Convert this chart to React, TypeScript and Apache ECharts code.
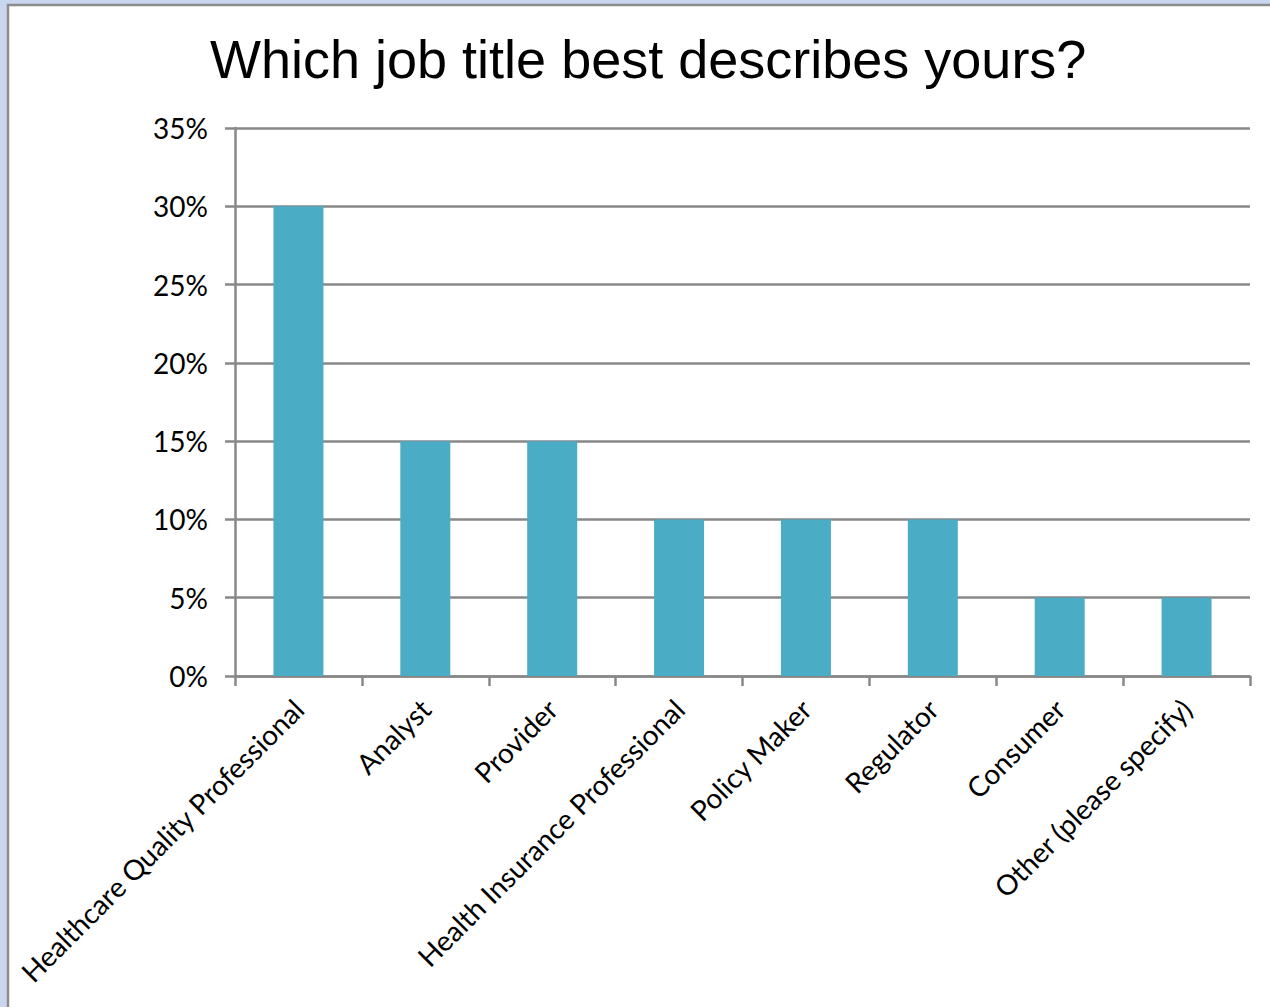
import React, { useEffect, useRef } from "react";
import * as echarts from "echarts";

const titleText = "Which job title best describes yours?";
const categories = [
  "Healthcare Quality Professional",
  "Analyst",
  "Provider",
  "Health Insurance Professional",
  "Policy Maker",
  "Regulator",
  "Consumer",
  "Other (please specify)",
];
const values = [0.3, 0.15, 0.15, 0.1, 0.1, 0.1, 0.05, 0.05];
const yMin = 0;
const yMax = 0.35;
const yInterval = 0.05;

export default function App() {
  const ref = useRef<HTMLDivElement>(null);
  useEffect(() => {
    document.body.style.margin = "0";
    const chart = echarts.init(ref.current!, null, { renderer: "svg" });
    chart.setOption({
      animation: false,
      backgroundColor: "#C9D6EE",
      graphic: [
        {
          type: "rect",
          z: -10,
          shape: { x: 8, y: 5, width: 1300, height: 1100 },
          style: { fill: "#ffffff", stroke: "#8c8c8c", lineWidth: 2.5 },
        },
      ],
      title: {
        text: titleText,
        left: 205,
        top: 27,
        textStyle: {
          fontFamily: "Liberation Sans",
          fontSize: 54,
          fontWeight: "normal",
          color: "#000",
        },
      },
      grid: { left: 235, right: 20, top: 128, bottom: 331, containLabel: false },
      xAxis: {
        type: "category",
        data: categories,
        boundaryGap: true,
        axisLine: { show: true, lineStyle: { color: "#888", width: 2.5 } },
        axisTick: { show: true, length: 10, alignWithLabel: false, lineStyle: { color: "#888", width: 2.5 } },
        axisLabel: {
          rotate: 45,
          interval: 0,
          margin: 28,
          fontFamily: "Lato",
          fontSize: 28,
          color: "#000",
        },
      },
      yAxis: {
        type: "value",
        min: yMin,
        max: yMax,
        interval: yInterval,
        axisLine: { show: true, lineStyle: { color: "#888", width: 2.5 } },
        axisTick: { show: true, length: 10, lineStyle: { color: "#888", width: 2.5 } },
        splitLine: { show: true, lineStyle: { color: "#888", width: 2.5 } },
        axisLabel: {
          margin: 27,
          fontFamily: "Lato",
          fontSize: 28,
          color: "#000",
          formatter: (v: number) => `${Math.round(v * 100)}%`,
        },
      },
      series: [
        {
          type: "bar",
          data: values,
          barWidth: 50,
          itemStyle: { color: "#4BACC6" },
        },
      ],
    });
    return () => chart.dispose();
  }, []);
  return <div ref={ref} style={{ position: "fixed", left: 0, top: 0, width: 1270, height: 1007 }} />;
}
